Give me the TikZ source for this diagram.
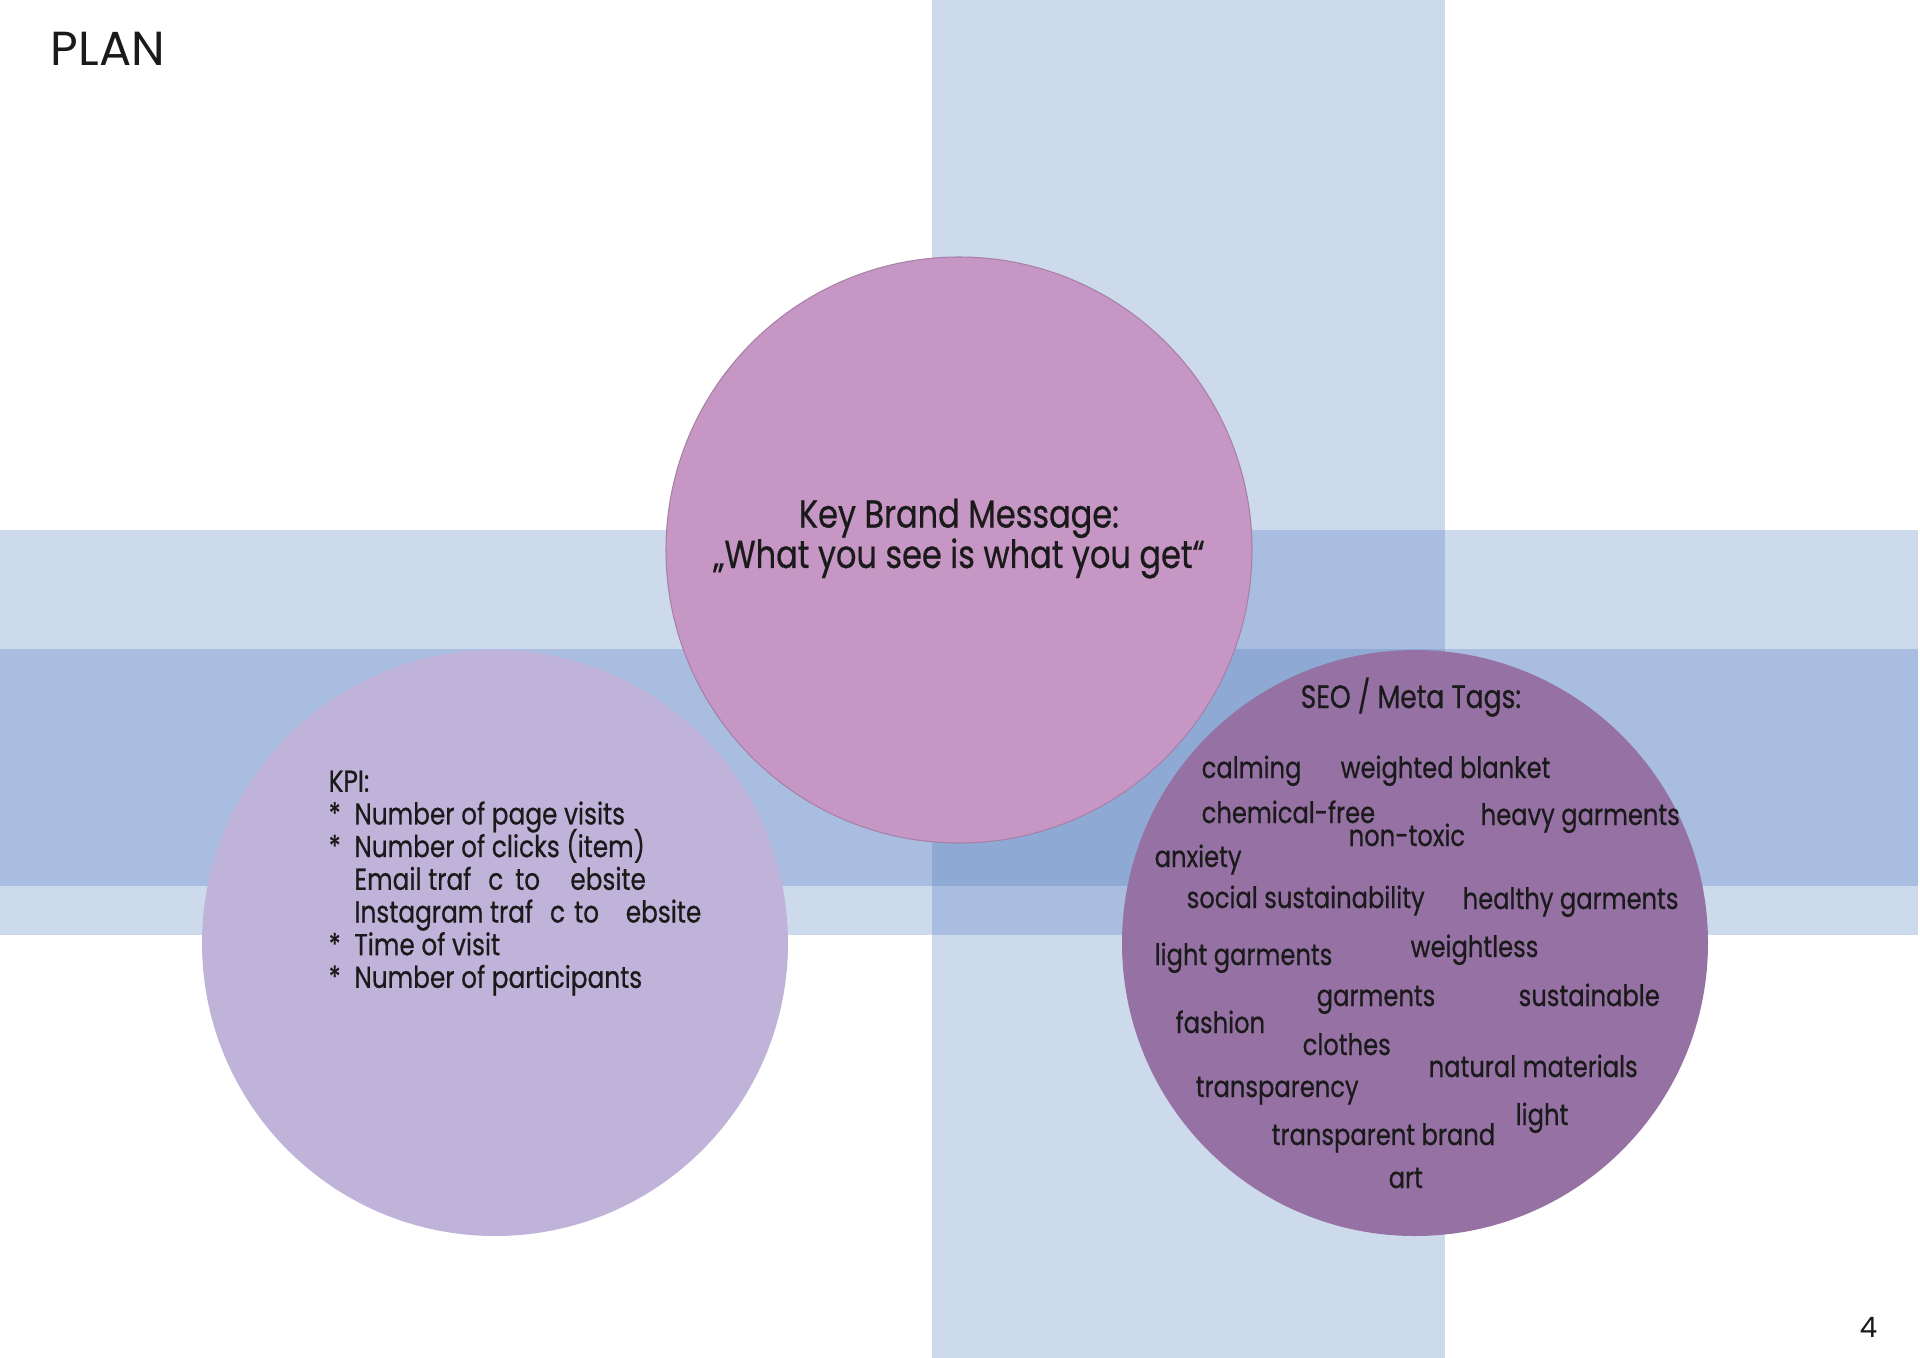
\documentclass[tikz,border=0pt]{standalone}
\usepackage{fontspec}
\setmainfont{Poppins}[FakeStretch=0.82, FakeBold=0.6]
\newfontfamily\titlefont{Poppins}
\usetikzlibrary{positioning}

\definecolor{bandlight}{HTML}{CDDAEB}
\definecolor{bandmid}{HTML}{A9BDE0}
\definecolor{banddark}{HTML}{8EAAD4}
\definecolor{msgfill}{HTML}{C697C4}
\definecolor{kpifill}{HTML}{C0B3D9}
\definecolor{seofill}{HTML}{9671A4}
\definecolor{ink}{HTML}{1A1A1A}

\newcommand{\kpistar}{*\hspace{2pt} }
\newcommand{\kpiskip}{\phantom{*}\hspace{2pt} }
\newcommand{\tightlines}{\setlength{\lineskiplimit}{-20pt}}

\tikzset{
  bubble/.style={circle, inner sep=0pt, minimum size=58.6mm},
  tag/.style={anchor=base west, inner sep=0pt, text=ink, font=\fontsize{8.4}{10}\selectfont},
}

\begin{document}
\begin{tikzpicture}[x=0.1mm, y=-0.1mm, every node/.style={text=ink}]
\useasboundingbox (0,0) rectangle (1920,1358);
\fill[white] (0,0) rectangle (1920,1358);

% bands (cross)
\fill[bandlight] (0,530) rectangle (1918,935);
\fill[bandlight] (932,0) rectangle (1445,1358);
\fill[bandmid] (932,530) rectangle (1445,935);
\fill[bandmid] (0,649) rectangle (1918,886);
\fill[banddark] (932,649) rectangle (1445,886);

% circles
\node[bubble, fill=msgfill, draw=msgfill!85!black, line width=0.3pt] (msg) at (959,550) {};
\node[bubble, fill=kpifill] (kpi) at (495,943) {};
\node[bubble, fill=seofill] (seo) at (1415,943) {};

% title and page number
\node[anchor=base west, inner sep=0pt, font=\titlefont\fontsize{13.6}{16}\selectfont] (plan) at (50,65) {PLAN};
\node[anchor=base west, inner sep=0pt, font=\titlefont\fontsize{8}{9}\selectfont] (page) at (1859,1337) {4};

% key brand message
\node[anchor=north, inner sep=0pt, align=center, font={\fontsize{11.1}{11.5}\selectfont\tightlines}] (msgtext) at (959,498)
  {Key Brand Message:\\„What you see is what you get“};

% KPI list
\node[anchor=north west, inner sep=0pt, align=left, font={\fontsize{8.6}{9.3}\selectfont\tightlines}] (kpitext) at (328,770)
  {KPI:\\
   \kpistar Number of page visits\\
   \kpistar Number of clicks (item)\\
   \kpiskip Email traf\hspace{4.8pt}c\hspace{3.4pt}to\hspace{8.6pt}ebsite\\
   \kpiskip Instagram traf\hspace{4.8pt}c\hspace{2.6pt}to\hspace{7.6pt}ebsite\\
   \kpistar Time of visit\\
   \kpistar Number of participants};

% SEO / meta tags
\node[tag, font=\fontsize{9.2}{10}\selectfont] (seotitle) at (1300,708) {SEO / Meta Tags:};
\node[tag] (calming) at (1201,778) {calming};
\node[tag] (blanket) at (1340,778) {weighted blanket};
\node[tag] (chemfree) at (1201,823) {chemical-free};
\node[tag] (heavy) at (1480,825) {heavy garments};
\node[tag] (nontoxic) at (1348,846) {non-toxic};
\node[tag] (anxiety) at (1154,867) {anxiety};
\node[tag] (social) at (1186,908) {social sustainability};
\node[tag] (healthy) at (1462,909) {healthy garments};
\node[tag] (lightgarm) at (1154,965) {light garments};
\node[tag] (weightless) at (1410,957) {weightless};
\node[tag] (garments) at (1316,1006) {garments};
\node[tag] (sustainable) at (1518,1006) {sustainable};
\node[tag] (fashion) at (1175,1033) {fashion};
\node[tag] (clothes) at (1302,1055) {clothes};
\node[tag] (natural) at (1428,1077) {natural materials};
\node[tag] (transparency) at (1195,1097) {transparency};
\node[tag] (light) at (1515,1125) {light};
\node[tag] (brand) at (1271,1145) {transparent brand};
\node[tag] (art) at (1388,1188) {art};

\end{tikzpicture}
\end{document}
